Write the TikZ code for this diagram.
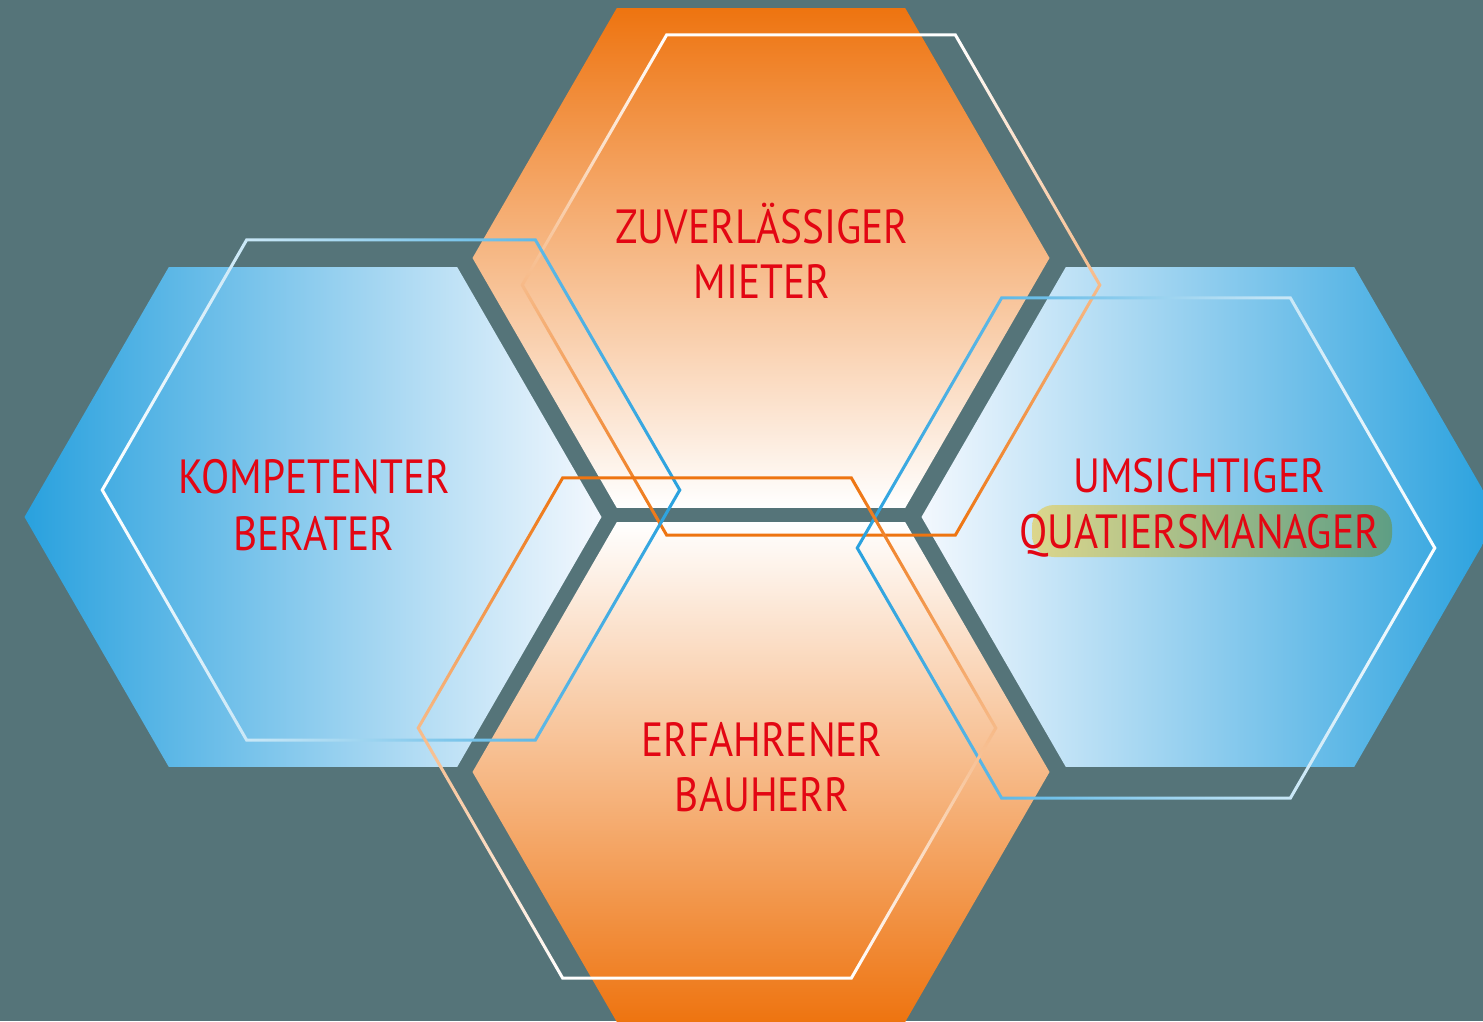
\documentclass[tikz,border=0pt]{standalone}
\usepackage{fontspec}
\setmainfont[FakeStretch=0.86]{PT Sans}
\usetikzlibrary{shapes.geometric, calc}

\definecolor{slate}{HTML}{557479}
\definecolor{hexorange}{HTML}{EE7410}
\definecolor{hexblue}{HTML}{29A1DE}
\definecolor{midblue}{HTML}{A0C6EE}
\definecolor{paleblue}{HTML}{F3F8FE}
\definecolor{txtred}{HTML}{E30613}
\definecolor{hlyellow}{HTML}{DCD68C}
\definecolor{hlgreen}{HTML}{5E9E84}

\tikzstyle{hexfill} = [regular polygon, regular polygon sides=6, minimum size=577pt, inner sep=0pt]
\tikzstyle{caption} = [text=txtred, anchor=base, inner sep=0pt, font=\fontsize{48}{56}\selectfont]
\tikzstyle{highlight} = [rounded corners=22pt, minimum width=360pt, minimum height=52pt, left color=hlyellow, right color=hlgreen]

% thin hexagon outline as a shaded ring, centre #1, shading #2
\newcommand{\hexring}[2]{%
  \shade[#2, even odd rule]
    ($(#1)+(0:290.5)$) -- ($(#1)+(60:290.5)$) -- ($(#1)+(120:290.5)$) -- ($(#1)+(180:290.5)$)
      -- ($(#1)+(240:290.5)$) -- ($(#1)+(300:290.5)$) -- cycle
    ($(#1)+(0:287)$) -- ($(#1)+(60:287)$) -- ($(#1)+(120:287)$) -- ($(#1)+(180:287)$)
      -- ($(#1)+(240:287)$) -- ($(#1)+(300:287)$) -- cycle;}

\begin{document}
\begin{tikzpicture}[x=1pt, y=-1pt]

\useasboundingbox (0,0) rectangle (1483,1021);
\clip (0,0) rectangle (1483,1021);
\fill [slate] (0,0) rectangle (1483,1021);

% filled hexagons
\node (hexTop) [hexfill, top color=hexorange, bottom color=white] at (761,258) {};
\node (hexBottom) [hexfill, top color=white, bottom color=hexorange] at (761,772) {};
\node (hexLeft) [hexfill, left color=hexblue, middle color=midblue, right color=paleblue] at (313,517) {};
\node (hexRight) [hexfill, left color=paleblue, middle color=midblue, right color=hexblue] at (1210,517) {};

% outlines
\coordinate (ringTop) at (811,285);
\coordinate (ringLeft) at (391,490);
\coordinate (ringRight) at (1146,548);
\coordinate (ringBottom) at (707,728);
\hexring{ringTop}{top color=white, bottom color=hexorange}
\hexring{ringLeft}{left color=white, right color=hexblue}
\hexring{ringRight}{left color=hexblue, right color=white}
\hexring{ringBottom}{top color=hexorange, bottom color=white}

\node (hlManager) [highlight] at (1212,531) {};

\node (capTopA) [caption] at (762,243) {ZUVERLÄSSIGER};
\node (capTopB) [caption] at (762,298) {MIETER};
\node (capLeftA) [caption] at (314,493) {KOMPETENTER};
\node (capLeftB) [caption] at (314,550) {BERATER};
\node (capBottomA) [caption] at (762,756) {ERFAHRENER};
\node (capBottomB) [caption] at (762,811) {BAUHERR};
\node (capRightA) [caption] at (1199,492) {UMSICHTIGER};
\node (capRightB) [caption] at (1199,548) {QUATIERSMANAGER};

\end{tikzpicture}
\end{document}
